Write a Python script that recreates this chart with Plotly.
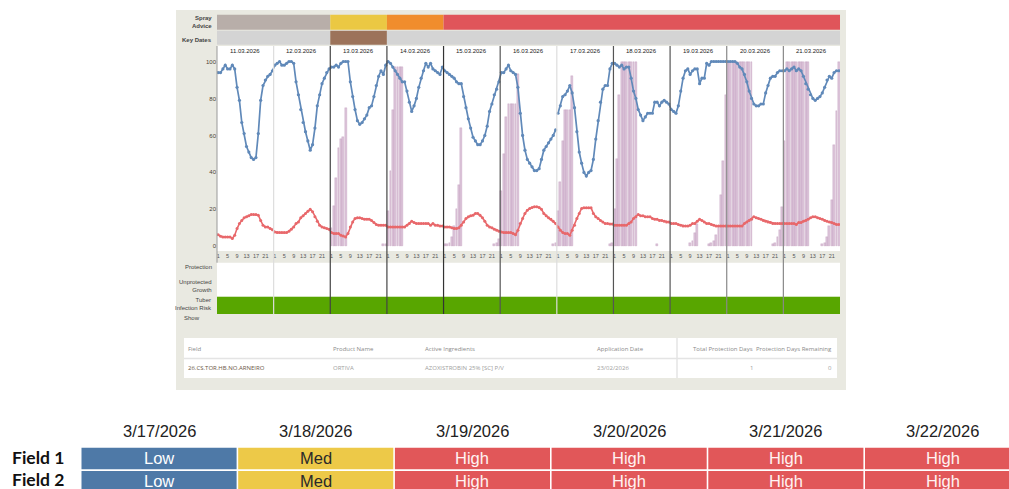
import plotly.graph_objects as go

W, H = 1009, 489

# ---------------- data ----------------
dates = ["11.03.2026", "12.03.2026", "13.03.2026", "14.03.2026", "15.03.2026", "16.03.2026",
         "17.03.2026", "18.03.2026", "19.03.2026", "20.03.2026", "21.03.2026"]
hour_ticks = [1, 5, 9, 13, 17, 21]

humidity = [
    [94, 94, 96, 98, 96, 96, 98, 96, 86, 79, 67, 61, 54, 51, 48, 47, 48, 61, 79, 87, 90, 92, 93, 95],
    [98, 99, 100, 98, 98, 99, 100, 100, 99, 89, 82, 74, 67, 62, 57, 52, 55, 64, 76, 82, 88, 91, 94, 96],
    [97, 97, 98, 97, 99, 100, 100, 100, 89, 81, 74, 68, 66, 67, 69, 71, 75, 76, 81, 87, 92, 95, 93, 98],
    [100, 99, 97, 95, 93, 91, 89, 89, 84, 78, 73, 76, 80, 86, 91, 95, 99, 97, 99, 96, 95, 94, 93, 97],
    [95, 94, 93, 92, 91, 89, 88, 88, 81, 75, 69, 64, 59, 57, 55, 55, 57, 60, 65, 73, 77, 82, 85, 89],
    [94, 94, 96, 98, 95, 94, 93, 86, 72, 60, 52, 47, 45, 43, 41, 41, 42, 47, 52, 54, 56, 58, 60, 63],
    [72, 76, 81, 82, 84, 87, 83, 75, 62, 51, 45, 40, 38, 40, 41, 47, 58, 68, 78, 85, 87, 87, 96, 99],
    [99, 98, 97, 98, 96, 97, 97, 91, 84, 80, 74, 71, 68, 70, 72, 72, 72, 78, 78, 76, 78, 79, 78, 77],
    [74, 73, 72, 76, 84, 91, 95, 96, 93, 95, 96, 96, 88, 91, 91, 99, 98, 100, 100, 100, 100, 100, 100, 100],
    [100, 100, 100, 100, 99, 97, 96, 93, 89, 84, 80, 77, 76, 76, 77, 77, 83, 87, 91, 92, 92, 94, 95, 95],
    [95, 96, 95, 96, 97, 95, 96, 95, 92, 88, 85, 82, 80, 79, 80, 81, 83, 86, 90, 92, 91, 94, 95, 95],
]
humidity_break_after_day = [5]

temperature = [
    [6.3, 5.4, 5.1, 5.1, 5.1, 5.1, 4.2, 6, 9.6, 12.3, 14, 15.4, 16, 16.5, 17.2, 17.2, 17.2, 16.8, 14, 11.4, 10.5, 10.5, 9.6, 9],
    [7.8, 7.4, 7.4, 7.4, 7.4, 7.4, 8.2, 9.2, 10.5, 12.3, 13.2, 15.4, 16.5, 17.8, 19, 20, 18.7, 16, 13.6, 11.4, 10.5, 10, 9.6, 9.2],
    [7.4, 6.9, 6.9, 6.9, 6, 5.6, 5.1, 6.9, 10.5, 13.2, 15, 15.4, 15.4, 15, 14.7, 14.7, 14.7, 14, 12.9, 11.8, 11.4, 11.4, 11.4, 11.4],
    [10.5, 10.5, 10.5, 10.5, 10.5, 10.5, 10.5, 10.5, 11.4, 12.3, 13.6, 12.9, 12.3, 12.3, 12.3, 12.3, 12.3, 12.3, 11.4, 12.3, 11.4, 11.4, 11, 11],
    [10.5, 10.5, 10.5, 10, 9.6, 9.6, 10, 11.4, 13.2, 15, 16, 16.5, 16.8, 17.8, 17.8, 16.8, 15.4, 13.6, 11.4, 10.5, 10, 9.2, 8.7, 8.2],
    [7.8, 7.4, 7.4, 7.4, 7.4, 6.9, 6.3, 8.7, 12.3, 15, 17.8, 19.5, 20.5, 21, 21.4, 21.4, 21, 20, 17.8, 16.5, 15.5, 14.7, 13.5, 12.3],
    [10.5, 8.7, 7.4, 6.9, 6.9, 6, 8.7, 11.4, 15, 17.8, 20.5, 20.8, 20.8, 20.8, 20.8, 17.8, 16, 15, 14, 13.2, 12.3, 12.3, 12, 12],
    [11.4, 11.4, 11.4, 11.4, 11.4, 11.4, 12.3, 13.2, 15, 16, 17.2, 16.5, 16.5, 16, 16, 16, 15, 14.7, 14.7, 14, 14, 13.6, 13.2, 13.2],
    [12.3, 12.3, 12.3, 11.8, 11.4, 11, 11, 11, 11.4, 12.3, 12.3, 13.6, 14.7, 14, 13.2, 12.3, 12.3, 11.8, 11.4, 11, 11, 11, 11, 11],
    [11, 11, 11, 11, 11, 11, 11, 12.3, 13.2, 14, 14.7, 16, 15.4, 15, 14.7, 14, 13.6, 13.2, 12.9, 12.3, 12.3, 12.3, 12.3, 12.3],
    [12.3, 12.3, 12.3, 12.3, 12.3, 11.8, 12.9, 12.9, 13.6, 14, 14.7, 15.4, 16, 16, 15.4, 15, 14.7, 14, 13.6, 13.2, 12.9, 12.3, 11.8, 11.8],
]

wetness = [
    [0] * 24,
    [0] * 24,
    [10, 22, 37, 53, 58, 59, 75] + [0] * 15 + [1, 1],
    [19, 41, 74, 97, 97, 97, 97] + [0] * 17,
    [1, 1, 2, 5, 11, 20, 33, 64] + [0] * 13 + [1, 2, 4],
    [30, 50, 70, 77, 77, 77, 77, 93] + [0] * 14 + [1, 2],
    [19, 35, 57, 74, 74, 74, 92] + [0] * 15 + [1, 2],
    [20, 47, 82] + [100] * 7 + [0] * 8 + [1] + [0] * 5,
    [0] * 8 + [2, 3, 7, 12] + [0] * 4 + [1, 2, 3, 6, 11, 28, 46, 82],
    [100] * 11 + [0] * 8 + [1, 2, 5, 9, 21],
    [57] + [100] * 10 + [0] * 5 + [1, 2, 5, 11, 25, 55, 73, 100],
]

spray_advice = ["none", "none", "low", "medium", "high", "high", "high", "high", "high", "high", "high"]
key_dates = [False, False, True, False, False, False, False, False, False, False, False]

app_headers = ["Field", "Product Name", "Active Ingredients", "Application Date",
               "Total Protection Days", "Protection Days Remaining"]
app_row = ["26.CS.TOR.HB.NO.ARNEIRO", "ORTIVA", "AZOXISTROBIN 25% [SC] P/V", "23/02/2026", "1", "0"]

forecast_dates = ["3/17/2026", "3/18/2026", "3/19/2026", "3/20/2026", "3/21/2026", "3/22/2026"]
fields = ["Field 1", "Field 2"]
field_risk = [
    ["Low", "Med", "High", "High", "High", "High"],
    ["Low", "Med", "High", "High", "High", "High"],
]

# ---------------- helpers ----------------
def px(x):
    return x / W


def py(y):
    return 1 - y / H


def runs(values):
    """group consecutive equal values -> (start_day, end_day, value)"""
    out = []
    start = 0
    for i in range(1, len(values) + 1):
        if i == len(values) or values[i] != values[start]:
            out.append((start, i, values[start]))
            start = i
    return out


NDAYS = len(dates)
x_hours, rh_y, temp_y, wet_y, rh_x = [], [], [], [], []
for d in range(NDAYS):
    for k in range(24):
        xv = d * 24 + k + 0.5
        x_hours.append(xv)
        rh_x.append(xv)
        rh_y.append(humidity[d][k])
        temp_y.append(temperature[d][k])
        wv = wetness[d][k]
        wet_y.append(wv if wv > 0 else None)
    if d in humidity_break_after_day:
        rh_x.append(d * 24 + 24)
        rh_y.append(None)

tickvals, ticktext = [], []
for d in range(NDAYS):
    for h in hour_ticks:
        tickvals.append(d * 24 + h - 0.5)
        ticktext.append(str(h))

fig = go.Figure()
fig.add_trace(go.Bar(x=x_hours, y=wet_y, width=0.8,
                     marker=dict(color="rgba(214,186,210,0.85)",
                                 line=dict(color="rgba(190,150,185,0.9)", width=0.4)),
                     showlegend=False, hoverinfo="skip"))
fig.add_trace(go.Scatter(x=x_hours, y=temp_y, mode="lines+markers",
                         line=dict(color="#E8686B", width=1.6),
                         marker=dict(color="#E8686B", size=3),
                         showlegend=False, hoverinfo="skip"))
fig.add_trace(go.Scatter(x=rh_x, y=rh_y, mode="lines+markers", connectgaps=False,
                         line=dict(color="#6089B9", width=1.7),
                         marker=dict(color="#6089B9", size=3.2),
                         showlegend=False, hoverinfo="skip"))

# plot geometry (pixels)
PL, PR = 217, 840
PT, PB = 46, 251
Y0PX, YSCALE = 246.3, 1.848
yr = [(Y0PX - PB) / YSCALE, (Y0PX - PT) / YSCALE]

shapes = []
# panel
shapes.append(dict(type="rect", xref="paper", yref="paper", x0=px(176), x1=px(846), y0=py(390), y1=py(10),
                   fillcolor="#E9E9E1", line=dict(width=0), layer="below"))
# white plot area
shapes.append(dict(type="rect", xref="paper", yref="paper", x0=px(PL), x1=px(PR), y0=py(PB), y1=py(PT),
                   fillcolor="white", line=dict(width=0), layer="below"))
# white rows (protection / unprotected growth)
shapes.append(dict(type="rect", xref="paper", yref="paper", x0=px(PL), x1=px(PR), y0=py(296.7), y1=py(262.7),
                   fillcolor="white", line=dict(width=0), layer="below"))
# tuber infection risk band
shapes.append(dict(type="rect", xref="paper", yref="paper", x0=px(PL), x1=px(PR), y0=py(314), y1=py(296.7),
                   fillcolor="#58A600", line=dict(width=0), layer="below"))

spray_colors = {"none": "#B8AEA9", "low": "#EBC843", "medium": "#F08D2D", "high": "#E0555A"}
for s, e, v in runs(spray_advice):
    shapes.append(dict(type="rect", xref="x", yref="paper", x0=s * 24, x1=e * 24,
                       y0=py(29.7), y1=py(14.7), fillcolor=spray_colors[v],
                       line=dict(width=0), layer="below"))
for s, e, v in runs(key_dates):
    shapes.append(dict(type="rect", xref="x", yref="paper", x0=s * 24, x1=e * 24,
                       y0=py(44.7), y1=py(30.7), fillcolor="#9C735A" if v else "#D4D4D4",
                       line=dict(width=0), layer="below"))

line_cols = ["#DDDDDD", "#444444", "#444444", "#333333", "#555555", "#DDDDDD",
             "#555555", "#555555", "#888888", "#888888"]
for i, d in enumerate(range(1, NDAYS)):
    shapes.append(dict(type="line", xref="x", yref="paper", x0=d * 24, x1=d * 24,
                       y0=py(314), y1=py(PT), line=dict(color=line_cols[i], width=1.2), layer="above"))
shapes.append(dict(type="line", xref="paper", yref="paper", x0=px(PL), x1=px(PL),
                   y0=py(262.7), y1=py(PT), line=dict(color="#999999", width=1), layer="above"))

# application table
shapes.append(dict(type="rect", xref="paper", yref="paper", x0=px(184), x1=px(837), y0=py(378), y1=py(338),
                   fillcolor="white", line=dict(width=0), layer="below"))
shapes.append(dict(type="line", xref="paper", yref="paper", x0=px(184), x1=px(837), y0=py(358.5), y1=py(358.5),
                   line=dict(color="#E4E4E4", width=1.5), layer="below"))
shapes.append(dict(type="line", xref="paper", yref="paper", x0=px(677), x1=px(677), y0=py(378), y1=py(338),
                   line=dict(color="#E4E4E4", width=1.5), layer="below"))

# forecast table cells
risk_colors = {"Low": "#4E79A7", "Med": "#EDC948", "High": "#E15759"}
risk_text = {"Low": "white", "Med": "#2a2a2a", "High": "#FFF3F3"}
COL0, COLW = 80.7, 156.7
row_y = [(447.7, 469.2), (471.0, 492.0)]
annotations = []
for r, row in enumerate(field_risk):
    for c, val in enumerate(row):
        x0 = COL0 + c * COLW + 0.8
        x1 = x0 + COLW - 1.6
        shapes.append(dict(type="rect", xref="paper", yref="paper", x0=px(x0), x1=px(x1),
                           y0=py(row_y[r][1]), y1=py(row_y[r][0]), fillcolor=risk_colors[val],
                           line=dict(width=0), layer="below"))
        annotations.append(dict(xref="paper", yref="paper", x=px(COL0 + c * COLW + COLW / 2),
                                y=py(457.5 + r * 23.0), text=val, showarrow=False,
                                font=dict(family="Liberation Sans, Arial", size=16.5, color=risk_text[val]),
                                xanchor="center", yanchor="middle"))
for c, dt in enumerate(forecast_dates):
    annotations.append(dict(xref="paper", yref="paper", x=px(COL0 + c * COLW + COLW / 2), y=py(430.7),
                            text=dt, showarrow=False,
                            font=dict(family="Liberation Sans, Arial", size=16.5, color="#222"),
                            xanchor="center", yanchor="middle"))
for r, f in enumerate(fields):
    annotations.append(dict(xref="paper", yref="paper", x=px(66), y=py(457.3 + r * 22.3),
                            text="<b>" + f + "</b>", showarrow=False,
                            font=dict(family="Lato, Open Sans", size=17.5, color="#111"),
                            xanchor="right", yanchor="middle"))

# date headers
for d, dt in enumerate(dates):
    annotations.append(dict(xref="x", yref="paper", x=d * 24 + 12, y=py(51.5), text=dt, showarrow=False,
                            font=dict(family="Liberation Sans, Arial", size=6, color="#222"),
                            xanchor="center", yanchor="middle"))

# left labels
lab_font = dict(family="Liberation Sans, Arial", size=6, color="#444")
left_labels = [("<b>Spray<br>Advice</b>", 22.2), ("<b>Key Dates</b>", 39.5), ("Protection", 267),
               ("Unprotected<br>Growth", 286), ("Tuber<br>Infection Risk", 303.7)]
for txt, yy in left_labels:
    annotations.append(dict(xref="paper", yref="paper", x=px(214), y=py(yy), text=txt, showarrow=False,
                            font=lab_font, xanchor="right", yanchor="middle", align="right"))
annotations.append(dict(xref="paper", yref="paper", x=px(182), y=py(318), text="Show", showarrow=False,
                        font=lab_font, xanchor="left", yanchor="middle"))

# application table text
tab_font = "Open Sans, Liberation Sans"
head_x = [(186, "left"), (331, "left"), (423, "left"), (595, "left"), (755, "right"), (834, "right")]
for i, h in enumerate(app_headers):
    annotations.append(dict(xref="paper", yref="paper", x=px(head_x[i][0]), y=py(349), text=h,
                            showarrow=False, font=dict(family=tab_font, size=6, color="#8a8a8a"),
                            xanchor=head_x[i][1], yanchor="middle"))
for i, v in enumerate(app_row):
    annotations.append(dict(xref="paper", yref="paper", x=px(head_x[i][0]), y=py(368), text=v,
                            showarrow=False,
                            font=dict(family=tab_font, size=6, color="#6a5645" if i == 0 else "#a0a0a0"),
                            xanchor=head_x[i][1], yanchor="middle"))

fig.update_layout(
    width=W, height=H, autosize=False,
    margin=dict(l=0, r=0, t=0, b=0),
    paper_bgcolor="white", plot_bgcolor="rgba(0,0,0,0)",
    bargap=0, barmode="overlay",
    xaxis=dict(domain=[px(PL), px(PR)], range=[0, NDAYS * 24], tickvals=tickvals, ticktext=ticktext,
               showgrid=False, zeroline=False, showline=False, ticks="", tickangle=0,
               tickfont=dict(family="Liberation Sans, Arial", size=5.5, color="#555"), fixedrange=True),
    yaxis=dict(domain=[py(PB), py(PT)], range=yr, tickvals=[0, 20, 40, 60, 80, 100],
               showgrid=False, zeroline=False, showline=False, ticks="",
               tickfont=dict(family="Liberation Sans, Arial", size=6, color="#4a3f35"), fixedrange=True),
    shapes=shapes, annotations=annotations,
)

fig.write_html("out.html", config={"displayModeBar": False},
               post_script="document.body.style.margin='0px';")
